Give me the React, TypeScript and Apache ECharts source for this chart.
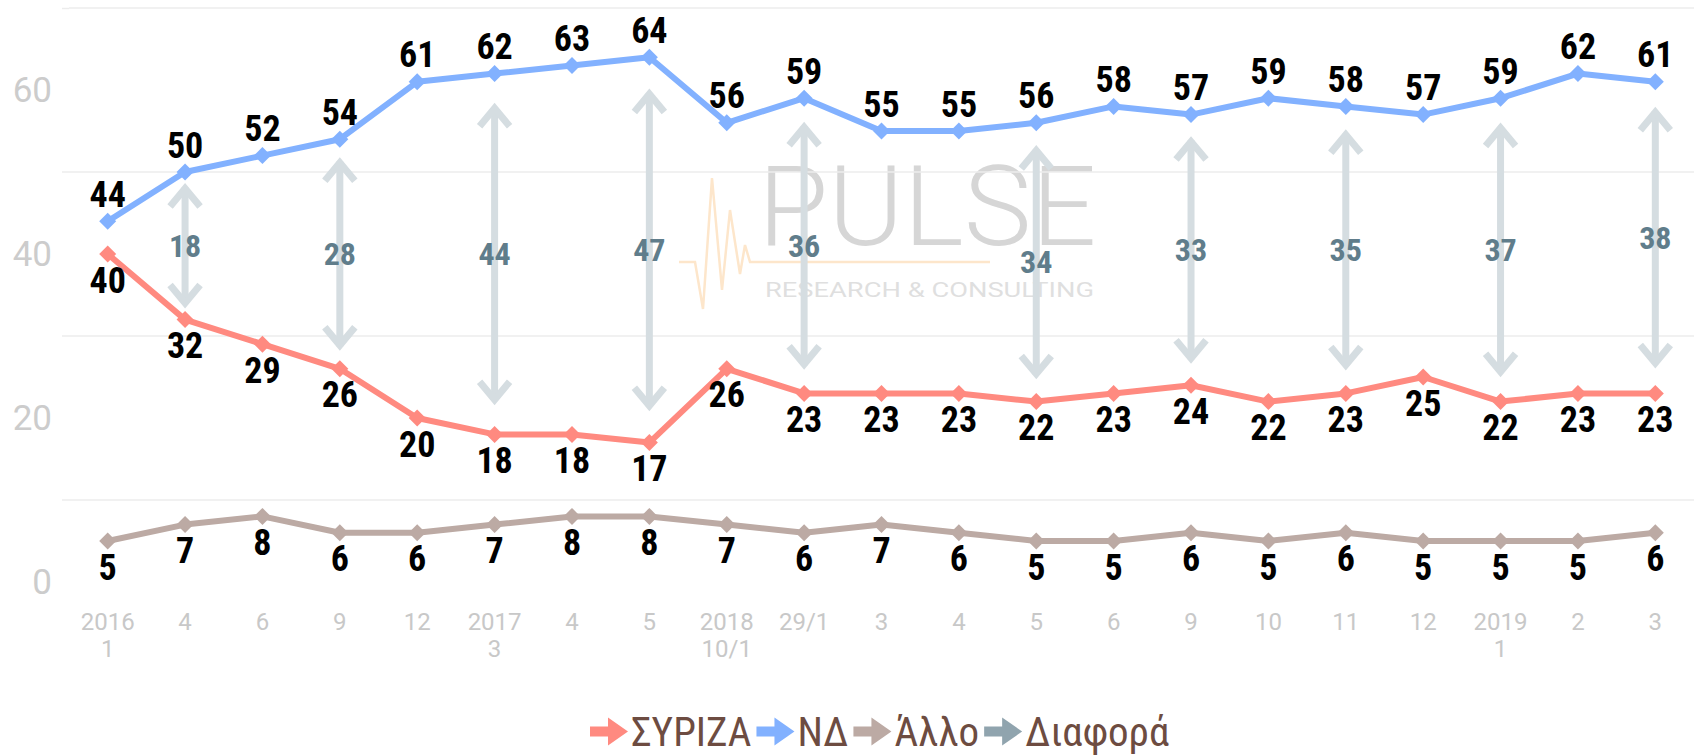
import React, { useEffect, useRef } from "react";
import * as echarts from "echarts";

const CATEGORIES = [
  "2016\n1", "4", "6", "9", "12", "2017\n3", "4", "5", "2018\n10/1", "29/1",
  "3", "4", "5", "6", "9", "10", "11", "12", "2019\n1", "2", "3",
];
const ND = [44, 50, 52, 54, 61, 62, 63, 64, 56, 59, 55, 55, 56, 58, 57, 59, 58, 57, 59, 62, 61];
const SYRIZA = [40, 32, 29, 26, 20, 18, 18, 17, 26, 23, 23, 23, 22, 23, 24, 22, 23, 25, 22, 23, 23];
const OTHER = [5, 7, 8, 6, 6, 7, 8, 8, 7, 6, 7, 6, 5, 5, 6, 5, 6, 5, 5, 5, 6];
const DIFF = [null, 18, null, 28, null, 44, null, 47, null, 36, null, null, 34, null, 33, null, 35, null, 37, null, 38];
const Y_TICKS = [0, 20, 40, 60];
const GRID_LINES = [10, 30, 50, 70];

const COND = '"Roboto Condensed", "Liberation Sans Narrow", "Arial Narrow", Roboto, sans-serif';
const REG = 'Roboto, "Noto Sans", sans-serif';

const ARROW_ICON = "path://M0,9 L18,9 L18,0 L38,14 L18,28 L18,19 L0,19 Z";

export default function App() {
  const ref = useRef<HTMLDivElement>(null);
  useEffect(() => {
    if (!ref.current) return;
    const chart = echarts.init(ref.current, null, { renderer: "svg" });

    const diffData = DIFF.map((d, i) => (d == null ? null : [i, ND[i], SYRIZA[i], d])).filter(
      (x) => x !== null
    );

    const arrowColor = "#d5dde1";

    const lineSeries = (name: string, data: number[], color: string, pos: string) => ({
      name,
      type: "line",
      data,
      symbol: "diamond",
      symbolSize: 17,
      lineStyle: { width: 6, color },
      itemStyle: { color },
      z: 3,
      label: {
        show: true,
        position: pos,
        distance: 0,
        color: "#000",
        fontFamily: COND,
        fontWeight: "bold",
        fontSize: 36,
      },
    });

    const option: any = {
      animation: false,
      backgroundColor: "#fff",
      grid: { left: 69, width: 1627, top: 8, bottom: 174, containLabel: false },
      legend: {
        left: 585,
        top: 706,
        itemGap: 5,
        itemWidth: 38,
        itemHeight: 28,
        symbolKeepAspect: true,
        lineStyle: { width: 0 },
        textStyle: { fontFamily: COND, fontSize: 41, color: "#6d4c41", padding: [0, 0, 0, -2] },
        data: [
          { name: "ΣΥΡΙΖΑ", icon: ARROW_ICON, itemStyle: { color: "#ff8a80" } },
          { name: "ΝΔ", icon: ARROW_ICON, itemStyle: { color: "#82b1ff" } },
          { name: "Άλλο", icon: ARROW_ICON, itemStyle: { color: "#bcaaa4" } },
          { name: "Διαφορά", icon: ARROW_ICON, itemStyle: { color: "#90a4ae" } },
        ],
      },
      xAxis: {
        type: "category",
        data: CATEGORIES,
        boundaryGap: true,
        axisLine: { show: false },
        axisTick: { show: false },
        axisLabel: {
          color: "#c8c8c8",
          fontFamily: REG,
          fontSize: 24,
          lineHeight: 27,
          margin: 26,
          interval: 0,
        },
      },
      yAxis: {
        type: "value",
        min: 0,
        max: 70,
        interval: 10,
        splitLine: { show: false },
        axisLine: { show: false },
        axisTick: { show: false },
        axisLabel: {
          color: "#cccccc",
          fontFamily: REG,
          fontSize: 35,
          margin: 17,
          formatter: (v: number) => (Y_TICKS.includes(v) ? String(v) : ""),
        },
      },
      graphic: [
        {
          type: "line",
          z: 0,
          silent: true,
          shape: { x1: 62, y1: 8.5, x2: 69, y2: 8.5 },
          style: { stroke: "#ececec", lineWidth: 1.5 },
        },
        ...GRID_LINES.slice(0, 3).map((v, k) => ({
          type: "line",
          z: 0,
          silent: true,
          shape: { x1: 62, y1: 500 - k * 164, x2: 69, y2: 500 - k * 164 },
          style: { stroke: "#ececec", lineWidth: 1.5 },
        })),
        {
          type: "group",
          z: 1,
          silent: true,
          children: [
            {
              type: "text",
              x: 758,
              y: 151,
              scaleX: 1.02,
              style: {
                text: "PULSE",
                fontFamily: REG,
                fontWeight: 300,
                fontSize: 112,
                fill: "#d6d6d6",
              },
            },
            {
              type: "text",
              x: 765,
              y: 279,
              scaleX: 1.3,
              style: {
                text: "RESEARCH & CONSULTING",
                fontFamily: REG,
                fontSize: 21,
                fill: "#dfdfdf",
              },
            },
            {
              type: "polyline",
              shape: {
                points: [
                  [679, 262], [695, 262], [703, 309], [712, 178], [722, 290],
                  [730, 210], [740, 274], [745, 245], [750, 262], [990, 262],
                ],
              },
              style: { stroke: "#fde6cb", lineWidth: 2.5, fill: null },
            },
          ],
        },
      ],
      series: [
        {
          ...lineSeries("ΣΥΡΙΖΑ", SYRIZA, "#ff8a80", "bottom"),
        },
        {
          ...lineSeries("ΝΔ", ND, "#82b1ff", "top"),
          markLine: {
            silent: true,
            symbol: ["none", "none"],
            label: { show: false },
            lineStyle: { color: "#ececec", width: 1.5, type: "solid" },
            data: GRID_LINES.map((v) => ({ yAxis: v })),
            z: 0,
          },
        },
        {
          ...lineSeries("Άλλο", OTHER, "#bcaaa4", "bottom"),
        },
        {
          name: "Διαφορά",
          type: "custom",
          z: 2,
          itemStyle: { color: "#90a4ae" },
          encode: { x: 0, y: [1, 2] },
          data: diffData,
          renderItem: (params: any, api: any) => {
            const i = api.value(0);
            const hi = api.value(1);
            const lo = api.value(2);
            const d = api.value(3);
            const top = api.coord([i, hi - 0.085 * d]);
            const bot = api.coord([i, lo + 0.085 * d]);
            const mid = api.coord([i, (hi + lo) / 2]);
            const x = top[0];
            const st = { stroke: arrowColor, lineWidth: 7, fill: null, lineCap: "butt", lineJoin: "miter" };
            return {
              type: "group",
              children: [
                { type: "line", shape: { x1: x, y1: top[1] + 3, x2: x, y2: bot[1] - 3 }, style: st },
                {
                  type: "polyline",
                  shape: { points: [[x - 15, top[1] + 22], [x, top[1] + 4], [x + 15, top[1] + 22]] },
                  style: st,
                },
                {
                  type: "polyline",
                  shape: { points: [[x - 15, bot[1] - 22], [x, bot[1] - 4], [x + 15, bot[1] - 22]] },
                  style: st,
                },
                {
                  type: "text",
                  x,
                  y: mid[1],
                  style: {
                    text: String(d),
                    fill: "#607d8b",
                    fontFamily: COND,
                    fontWeight: "bold",
                    fontSize: 32,
                    align: "center",
                    verticalAlign: "middle",
                  },
                },
              ],
            };
          },
        },
      ],
    };

    chart.setOption(option);
    return () => chart.dispose();
  }, []);

  return (
    <div
      ref={ref}
      style={{ position: "fixed", left: 0, top: 0, width: 1694, height: 756, background: "#fff" }}
    />
  );
}
